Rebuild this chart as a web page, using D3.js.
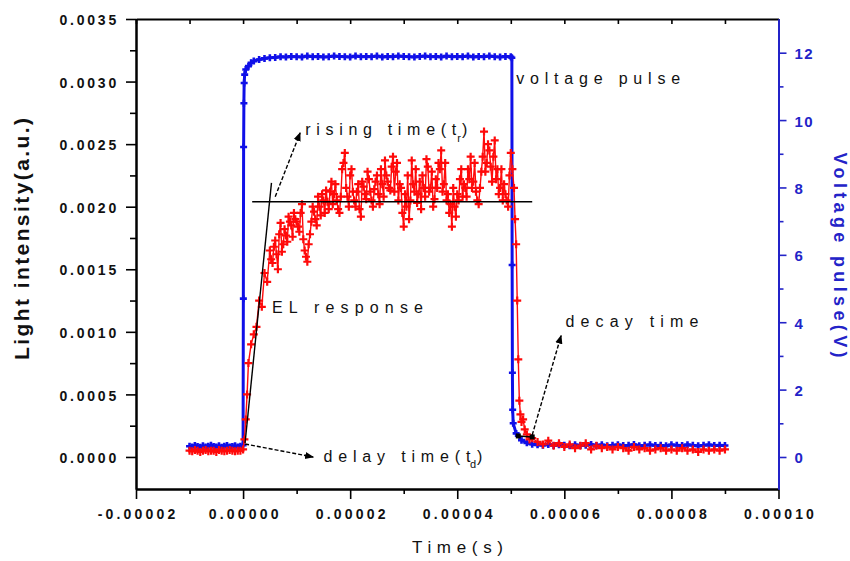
<!DOCTYPE html>
<html>
<head>
<meta charset="utf-8">
<script src="https://cdn.jsdelivr.net/npm/d3@7"></script>
<style>
  body { margin: 0; background: #fff; }
  text { font-family: "Liberation Sans", Arial, sans-serif; }
</style>
</head>
<body>
<svg id="chart" width="850" height="561"></svg>
<script>
// time values are in microseconds, axis labels show seconds
const timeTicks = [-20, 0, 20, 40, 60, 80, 100];
const timeTickLabels = ["-0.00002", "0.00000", "0.00002", "0.00004", "0.00006", "0.00008", "0.00010"];
const timeMinorTicks = [-10, 10, 30, 50, 70, 90];
const intensityTicks = [0, 0.0005, 0.001, 0.0015, 0.002, 0.0025, 0.003, 0.0035];
const intensityTickLabels = ["0.0000", "0.0005", "0.0010", "0.0015", "0.0020", "0.0025", "0.0030", "0.0035"];
const intensityMinorTicks = [0.00025, 0.00075, 0.00125, 0.00175, 0.00225, 0.00275, 0.00325];
const voltageTicks = [0, 2, 4, 6, 8, 10, 12];
const voltageMinorTicks = [1, 3, 5, 7, 9, 11];

// voltage pulse [time us, volts]
const voltagePulse = [
  [-10,0.32],[-9.5,0.30],[-9,0.34],[-8.5,0.31],[-8,0.29],[-7.5,0.33],[-7,0.30],[-6.5,0.32],[-6,0.35],[-5.5,0.31],
  [-5,0.30],[-4.5,0.33],[-4,0.29],[-3.5,0.32],[-3,0.34],[-2.5,0.30],[-2,0.31],[-1.5,0.33],[-1,0.30],[-0.5,0.32],
  [0,0.35],[0.05,4.7],[0.1,9.2],[0.15,10.5],[0.2,11.1],[0.3,11.35],[0.5,11.5],[1,11.6],[1.5,11.7],[2,11.75],
  [3,11.8],[4,11.83],[5,11.85],
  [6,11.86],[7,11.88],[8,11.87],[9,11.89],[10,11.88],[11,11.87],[12,11.9],[13,11.88],[14,11.89],[15,11.87],
  [16,11.88],[17,11.9],[18,11.89],[19,11.88],[20,11.87],[21,11.9],[22,11.88],[23,11.89],[24,11.88],[25,11.9],
  [26,11.87],[27,11.89],[28,11.88],[29,11.9],[30,11.89],[31,11.88],[32,11.87],[33,11.89],[34,11.9],[35,11.88],
  [36,11.89],[37,11.87],[38,11.9],[39,11.88],[40,11.89],[41,11.88],[42,11.9],[43,11.87],[44,11.89],[45,11.88],
  [46,11.9],[47,11.88],[48,11.87],[49,11.89],[50,11.88],
  [50.2,11.85],[50.25,5.7],[50.3,2.5],[50.35,1.4],[50.45,1.0],[51,0.7],[52,0.5],[53,0.42],[54,0.38],
  [55,0.36],[56,0.35],[57,0.37],[58,0.34],[59,0.36],[60,0.35],[61,0.33],[62,0.36],[63,0.34],[64,0.35],
  [65,0.37],[66,0.34],[67,0.36],[68,0.33],[69,0.35],[70,0.36],[71,0.34],[72,0.35],[73,0.37],[74,0.33],
  [75,0.35],[76,0.36],[77,0.34],[78,0.35],[79,0.33],[80,0.36],[81,0.35],[82,0.34],[83,0.36],[84,0.35],
  [85,0.33],[86,0.35],[87,0.36],[88,0.34],[89,0.35],[90,0.34]
];

// EL response [time us, light intensity a.u.]
const elResponse = [
  [-10,0.00005],[-9.5,0.000045],[-9,0.000055],[-8.5,0.00005],[-8,0.00004],[-7.5,0.00005],[-7,0.000055],[-6.5,0.000045],
  [-6,0.00005],[-5.5,0.00005],[-5,0.00004],[-4.5,0.000055],[-4,0.00005],[-3.5,0.000045],[-3,0.00005],[-2.5,0.000055],
  [-2,0.00005],[-1.5,0.000045],[-1,0.00005],[-0.5,0.00005],
  [0,0.00006],[0.25,0.00014],[0.5,0.0003],[0.75,0.0005],[1,0.00075],[1.5,0.0009],[2,0.00098],[2.5,0.00104],
  [3,0.00125],[3.5,0.0012],[4,0.00147],[4.5,0.0014],[5,0.00165],[5.5,0.00155],[6,0.00173],[6.5,0.0015],
  [7,0.00187],[7.5,0.0017],[8,0.00177],[8.5,0.00192],[9,0.00185],[9.5,0.00195],[10,0.00188],[10.5,0.0018],
  [11,0.00202],[11.5,0.00165],[12,0.00156],[12.5,0.00178],[13,0.002],[13.5,0.0019],[14,0.00208],[14.5,0.00193],
  [15,0.00205],[15.5,0.00213],[16,0.00198],[16.5,0.0022],[17,0.0021],[17.5,0.00205],[18,0.00195],[18.5,0.0023],
  [19,0.00243],[19.5,0.00208],[20,0.00225],[20.5,0.00212],[21,0.002],[21.5,0.00218],[22,0.00192],[22.5,0.00216],
  [23,0.00206],[23.5,0.00222],[24,0.00205],[24.5,0.00214],[25,0.00225],[25.5,0.00202],[26,0.00218],[26.5,0.00237],
  [27,0.0022],[27.5,0.00213],[28,0.0024],[28.5,0.00228],[29,0.00205],[29.5,0.00215],[30,0.00184],[30.5,0.002],
  [31,0.0019],[31.5,0.00237],[32,0.00212],[32.5,0.00203],[33,0.0022],[33.5,0.00225],[34,0.00208],[34.5,0.00232],
  [35,0.00215],[35.5,0.002],[36,0.00222],[36.5,0.00235],[37,0.00245],[37.5,0.00218],[38,0.00205],[38.5,0.00195],
  [39,0.00184],[39.5,0.002],[40,0.0021],[40.5,0.00222],[41,0.00208],[41.5,0.00215],[42,0.0023],[42.5,0.0024],
  [43,0.0022],[43.5,0.00212],[44,0.00202],[44.5,0.00228],[45,0.0026],[45.5,0.00235],[46,0.00245],[46.5,0.0022],
  [47,0.00253],[47.5,0.0023],[48,0.00215],[48.5,0.00205],[49,0.0021],[49.5,0.002],[50,0.00243],[50.3,0.0023],
  [50.6,0.00215],[50.8,0.0019],[51,0.0017],[51.2,0.00125],[51.4,0.00078],[51.6,0.00045],[51.8,0.00034],[52,0.00028],
  [52.3,0.0003],[52.6,0.00022],[53,0.00018],[53.5,0.00014],[54,0.00015],[55,0.00012],[56,0.0001],[57,0.00013],
  [58,0.00009],[59,0.00011],[60,0.00008],[61,0.0001],[62,0.00007],[63,0.00009],[64,0.00011],[65,0.00006],
  [66,0.00009],[67,0.00007],[68,0.00008],[69,0.00006],[70,0.00008],[71,0.00007],[72,0.00005],[73,0.00008],
  [74,0.00006],[75,0.00007],[76,0.00005],[77,0.00006],[78,0.00007],[79,0.00005],[80,0.00006],[81,0.00005],
  [82,0.00007],[83,0.00005],[84,0.00006],[85,0.00004],[86,0.00006],[87,0.00005],[88,0.00006],[89,0.00005],[90,0.00006]
];

// extra EL samples read between the ones above on the noisy plateau
const elResponseMid = [
  [5.25,0.00158],[5.75,0.00168],[6.25,0.00162],[6.75,0.00178],[7.25,0.00164],[7.75,0.00182],[8.25,0.00172],[8.75,0.00188],
  [9.25,0.00176],[9.75,0.0019],[10.25,0.00184],[10.75,0.00195],[11.25,0.00174],[11.75,0.0016],[12.25,0.0017],[12.75,0.00188],
  [13.25,0.00196],[13.75,0.00185],[14.25,0.002],[14.75,0.0021],[15.25,0.00195],[15.75,0.00204],[16.25,0.00212],[16.75,0.00202],
  [17.25,0.00218],[17.75,0.00198],[18.25,0.00208],[18.75,0.00235],[19.25,0.00215],[19.75,0.002],[20.25,0.0023],[20.75,0.00205],
  [21.25,0.00212],[21.75,0.00198],[22.25,0.0022],[22.75,0.0021],[23.25,0.00228],[23.75,0.00212],[24.25,0.002],[24.75,0.0022],
  [25.25,0.0021],[25.75,0.0023],[26.25,0.00208],[26.75,0.00225],[27.25,0.00215],[27.75,0.00232],[28.25,0.00212],[28.75,0.00235],
  [29.25,0.00218],[29.75,0.00195],[30.25,0.0021],[30.75,0.00225],[31.25,0.00205],[31.75,0.00218],[32.25,0.0023],[32.75,0.0021],
  [33.25,0.00198],[33.75,0.00215],[34.25,0.00238],[34.75,0.00212],[35.25,0.00228],[35.75,0.00206],[36.25,0.00215],[36.75,0.0023],
  [37.25,0.00212],[37.75,0.00235],[38.25,0.0021],[38.75,0.00202],[39.25,0.00215],[39.75,0.00192],[40.25,0.00205],[40.75,0.0023],
  [41.25,0.00218],[41.75,0.00208],[42.25,0.00222],[42.75,0.00215],[43.25,0.00235],[43.75,0.00205],[44.25,0.00215],[44.75,0.0024],
  [45.25,0.00228],[45.75,0.0025],[46.25,0.00232],[46.75,0.0024],[47.25,0.00222],[47.75,0.0021],[48.25,0.0023],[48.75,0.00218],
  [49.25,0.00205],[49.75,0.00225]
];

// annotation guide lines [time us, intensity]
const guideLines = [
  { from: [1.7, 0.00204], to: [54.0, 0.00204], dashed: false, arrow: false },
  { from: [0.37, 0.000112], to: [5.3, 0.00219], dashed: false, arrow: false },
  { from: [0.37, 0.000104], to: [13.1, 0.0], dashed: true, arrow: true },
  { from: [6.0, 0.00208], to: [10.65, 0.00259], dashed: true, arrow: true },
  { from: [54.0, 0.000176], to: [59.4, 0.00097], dashed: true, arrow: true },
  { from: [51.4, 0.000168], to: [54.0, 0.00016], dashed: false, arrow: false }
];
const decayMarks = [[51.4, 0.000168], [54.0, 0.00016]];

// annotation texts: position in data units, len = drawn width in px
const labels = [
  { text: "voltage pulse", t: 51.0, v: 0.00298, len: 164, size: 16 },
  { text: "rising time(t", t: 11.6, v: 0.00257, len: 151, size: 16 },
  { text: "r", t: 40.0, v: 0.002515, len: 0, size: 11 },
  { text: ")", t: 40.9, v: 0.00257, len: 0, size: 16 },
  { text: "EL response", t: 5.4, v: 0.00115, len: 151, size: 16 },
  { text: "delay time(t", t: 15.0, v: -0.00004, len: 147, size: 16 },
  { text: "d", t: 42.4, v: -0.000088, len: 0, size: 11 },
  { text: ")", t: 43.7, v: -0.00004, len: 0, size: 16 },
  { text: "decay time", t: 60.2, v: 0.00104, len: 133, size: 16 }
];

const svg = d3.select('#chart');
const plotLeft = 136, plotRight = 778.5, plotTop = 19, plotBottom = 489;
const BLUE = '#1010e8', AXIS_BLUE = '#2323c8', RED = '#ff0a0a';

const x = d3.scaleLinear().domain([-20, 100]).range([plotLeft, plotRight]);
const y = d3.scaleLinear().domain([-0.000256, 0.0035]).range([plotBottom, plotTop]);
const yV = d3.scaleLinear().domain([-0.95, 13.0]).range([plotBottom, plotTop]);

const elAll = d3.sort(elResponse.concat(elResponseMid), d => d[0]);

const defs = svg.append('defs');
defs.append('marker').attr('id', 'arrow')
  .attr('viewBox', '0 0 10 10').attr('refX', 9).attr('refY', 5)
  .attr('markerWidth', 9).attr('markerHeight', 9).attr('markerUnits', 'userSpaceOnUse')
  .attr('orient', 'auto')
  .append('path').attr('d', 'M0,1 L10,5 L0,9 Z').attr('fill', '#000');

function styleAxis(g, color) {
  g.select('.domain').attr('stroke', color).attr('stroke-width', 2);
  g.selectAll('.tick line').attr('stroke', color).attr('stroke-width', 1.6);
}

// top axis, ticks inside
svg.append('g').attr('transform', `translate(0,${plotTop})`)
  .call(d3.axisBottom(x).tickValues(timeTicks.concat(timeMinorTicks)).tickSize(5).tickFormat('').tickSizeOuter(0))
  .call(g => styleAxis(g, '#000'));

// bottom axis
svg.append('g').attr('transform', `translate(0,${plotBottom})`)
  .call(d3.axisBottom(x).tickValues(timeMinorTicks).tickSize(5).tickFormat('').tickSizeOuter(0))
  .call(g => styleAxis(g, '#000'));
const xAxis = svg.append('g').attr('transform', `translate(0,${plotBottom})`)
  .call(d3.axisBottom(x).tickValues(timeTicks).tickSize(10).tickPadding(10).tickSizeOuter(0)
    .tickFormat((d, i) => timeTickLabels[i]))
  .call(g => styleAxis(g, '#000'));
xAxis.selectAll('text').attr('fill', '#111').attr('font-size', 14).attr('font-weight', 'bold')
  .attr('letter-spacing', 3.2).attr('dx', 1.6);

// left axis
svg.append('g').attr('transform', `translate(${plotLeft},0)`)
  .call(d3.axisLeft(y).tickValues(intensityMinorTicks).tickSize(6).tickFormat('').tickSizeOuter(0))
  .call(g => styleAxis(g, '#000'));
const yAxis = svg.append('g').attr('transform', `translate(${plotLeft},0)`)
  .call(d3.axisLeft(y).tickValues(intensityTicks).tickSize(10).tickPadding(7).tickSizeOuter(0)
    .tickFormat((d, i) => intensityTickLabels[i]))
  .call(g => styleAxis(g, '#000'));
yAxis.selectAll('text').attr('fill', '#111').attr('font-size', 14).attr('font-weight', 'bold')
  .attr('letter-spacing', 2.8).attr('dy', '0.4em');

// right axis (voltage)
svg.append('g').attr('transform', `translate(${plotRight},0)`)
  .call(d3.axisRight(yV).tickValues(voltageMinorTicks).tickSize(5).tickFormat('').tickSizeOuter(0))
  .call(g => styleAxis(g, AXIS_BLUE));
const vAxis = svg.append('g').attr('transform', `translate(${plotRight},0)`)
  .call(d3.axisRight(yV).tickValues(voltageTicks).tickSize(8).tickPadding(8).tickSizeOuter(0))
  .call(g => styleAxis(g, AXIS_BLUE));
vAxis.selectAll('text').attr('fill', AXIS_BLUE).attr('font-size', 15).attr('font-weight', 'bold')
  .attr('letter-spacing', 1.5).attr('dy', '0.4em');

// axis titles
svg.append('text').attr('x', 412).attr('y', 553).attr('font-size', 17).attr('fill', '#111')
  .attr('textLength', 91).attr('lengthAdjust', 'spacing').text('Time(s)');
svg.append('text').attr('transform', 'translate(29,239) rotate(-90)').attr('text-anchor', 'middle')
  .attr('font-size', 21).attr('font-weight', 'bold').attr('fill', '#111')
  .attr('textLength', 242).attr('lengthAdjust', 'spacing').text('Light intensity(a.u.)');
svg.append('text').attr('transform', 'translate(834,255) rotate(90)').attr('text-anchor', 'middle')
  .attr('font-size', 18).attr('font-weight', 'bold').attr('fill', AXIS_BLUE)
  .attr('textLength', 205).attr('lengthAdjust', 'spacing').text('Voltage pulse(V)');

const plusRed = 'M-4,0H4M0,-4V4';
const plusBlue = 'M-3.5,0H3.5M0,-3.5V3.5';

// voltage pulse series
svg.append('path').datum(voltagePulse)
  .attr('d', d3.line().x(d => x(d[0])).y(d => yV(d[1])))
  .attr('fill', 'none').attr('stroke', BLUE).attr('stroke-width', 3);
svg.append('g').selectAll('path').data(voltagePulse).join('path')
  .attr('transform', d => `translate(${x(d[0])},${yV(d[1])})`)
  .attr('d', plusBlue).attr('stroke', BLUE).attr('stroke-width', 2.6);

// EL response series
svg.append('path').datum(elAll)
  .attr('d', d3.line().x(d => x(d[0])).y(d => y(d[1])))
  .attr('fill', 'none').attr('stroke', RED).attr('stroke-width', 1.4);
svg.append('g').selectAll('path').data(elAll).join('path')
  .attr('transform', d => `translate(${x(d[0])},${y(d[1])})`)
  .attr('d', plusRed).attr('stroke', RED).attr('stroke-width', 2.2);

// guide lines and arrows
svg.append('g').selectAll('line').data(guideLines).join('line')
  .attr('x1', d => x(d.from[0])).attr('y1', d => y(d.from[1]))
  .attr('x2', d => x(d.to[0])).attr('y2', d => y(d.to[1]))
  .attr('stroke', '#000').attr('stroke-width', 1.4)
  .attr('stroke-dasharray', d => d.dashed ? '4,2' : null)
  .attr('marker-end', d => d.arrow ? 'url(#arrow)' : null);
svg.append('g').selectAll('rect').data(decayMarks).join('rect')
  .attr('x', d => x(d[0]) - 2.5).attr('y', d => y(d[1]) - 2.5)
  .attr('width', 5).attr('height', 5).attr('fill', '#000');

// annotation texts
svg.append('g').selectAll('text').data(labels).join('text')
  .attr('x', d => x(d.t)).attr('y', d => y(d.v))
  .attr('font-size', d => d.size).attr('fill', '#111')
  .attr('textLength', d => d.len || null).attr('lengthAdjust', 'spacing')
  .text(d => d.text);
</script>
</body>
</html>
